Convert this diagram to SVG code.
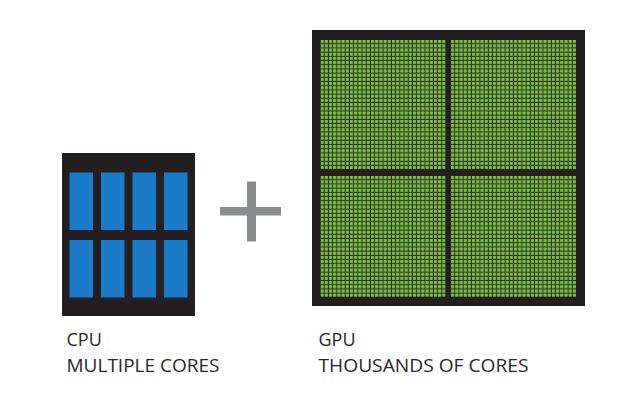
<svg xmlns="http://www.w3.org/2000/svg" width="625" height="400" viewBox="0 0 625 400">
  <style>
    .chip { fill: #231f20; }
    .core { fill: #1a7bc9; }
    .plus { fill: #8a8b8d; }
    .label { font-family: "Open Sans", "DejaVu Sans", sans-serif; font-size: 18px; fill: #2a2627; }
  </style>
  <defs>
    <pattern id="gcell" patternUnits="userSpaceOnUse" width="4.2" height="4.2">
      <rect x="0" y="0" width="4.2" height="4.2" fill="#2a2a30"/>
      <rect x="0" y="0" width="3.2" height="3.2" fill="#76c236"/>
    </pattern>
  </defs>
  <rect width="625" height="400" fill="#ffffff"/>

  <g id="cpu">
    <rect class="chip" x="62" y="153" width="133" height="163"/>
    <rect class="core" x="69.5" y="172.5" width="23.5" height="57.5"/>
    <rect class="core" x="101" y="172.5" width="23.5" height="57.5"/>
    <rect class="core" x="132.5" y="172.5" width="23.5" height="57.5"/>
    <rect class="core" x="164" y="172.5" width="23.5" height="57.5"/>
    <rect class="core" x="69.5" y="240" width="23.5" height="57.5"/>
    <rect class="core" x="101" y="240" width="23.5" height="57.5"/>
    <rect class="core" x="132.5" y="240" width="23.5" height="57.5"/>
    <rect class="core" x="164" y="240" width="23.5" height="57.5"/>
    <text class="label" x="66.5" y="346">CPU</text>
    <text class="label" x="66.5" y="372" textLength="153" lengthAdjust="spacingAndGlyphs">MULTIPLE CORES</text>
  </g>

  <g id="plus">
    <rect class="plus" x="220" y="207" width="61" height="8.5"/>
    <rect class="plus" x="247" y="181.5" width="9" height="60"/>
  </g>

  <g id="gpu">
    <rect class="chip" x="312" y="30" width="273" height="276"/>
    <g transform="translate(320.5,40)"><rect x="0" y="0" width="125" height="129.2" fill="url(#gcell)"/></g>
    <g transform="translate(451,40)"><rect x="0" y="0" width="125" height="129.2" fill="url(#gcell)"/></g>
    <g transform="translate(320.5,176)"><rect x="0" y="0" width="125" height="120.8" fill="url(#gcell)"/></g>
    <g transform="translate(451,176)"><rect x="0" y="0" width="125" height="120.8" fill="url(#gcell)"/></g>
    <text class="label" x="318.5" y="346">GPU</text>
    <text class="label" x="318.5" y="372" textLength="210" lengthAdjust="spacingAndGlyphs">THOUSANDS OF CORES</text>
  </g>
</svg>
